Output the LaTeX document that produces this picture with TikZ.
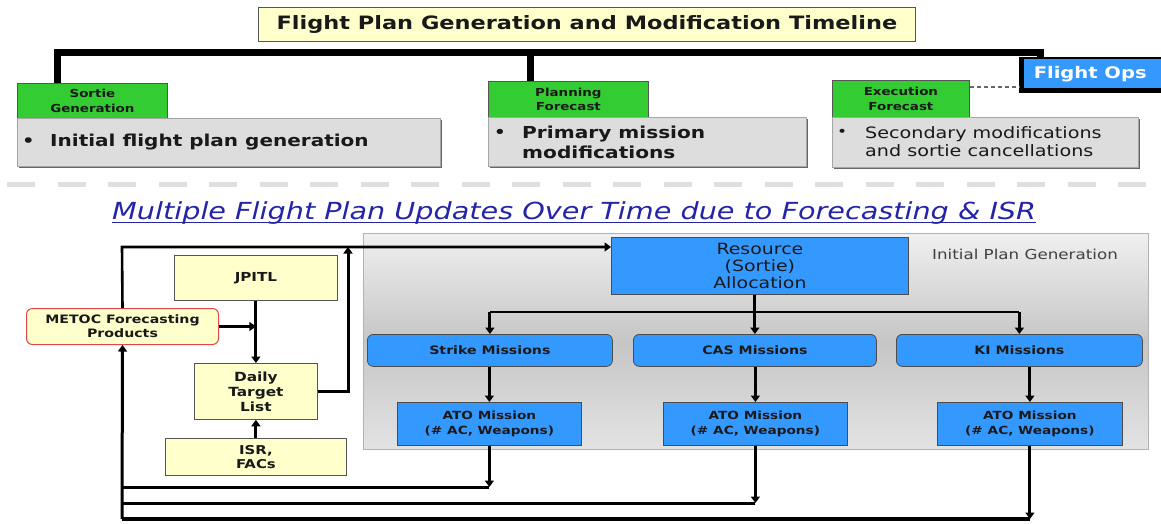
\documentclass[tikz,border=0pt]{standalone}
\usepackage{fontspec}
\setmainfont[FakeStretch=1.22]{DejaVu Sans}
\usetikzlibrary{arrows.meta,shadows}
\definecolor{yel}{HTML}{FFFFCC}
\definecolor{grn}{HTML}{33CC33}
\definecolor{gfill}{HTML}{DDDDDD}
\definecolor{blu}{HTML}{3399FF}
\definecolor{subblue}{HTML}{2424A8}
\definecolor{metred}{HTML}{E04848}
\definecolor{bord}{HTML}{555555}
\begin{document}
\begin{tikzpicture}[x=1pt,y=-1pt,
  box/.style={inner sep=0pt, anchor=north west, align=center, text=black!90},
  ybox/.style={box, draw=bord, fill=yel, line width=0.8pt},
  gnbox/.style={box, draw=bord, fill=grn, line width=0.8pt, font=\bfseries\fontsize{11}{14.5}\selectfont},
  grbox/.style={box, draw=gray!70, fill=gfill, line width=0.8pt,
     drop shadow={shadow xshift=1.5pt, shadow yshift=-1.5pt, fill=gray!80!black, opacity=1}},
  bbox/.style={box, draw=black!70, fill=blu, line width=0.8pt},
  mbox/.style={bbox, rounded corners=6pt, font=\bfseries\fontsize{11.6}{14}\selectfont},
  abox/.style={bbox, font=\bfseries\fontsize{11.2}{15}\selectfont},
  ln/.style={line width=3pt},
  arr/.style={line width=3pt, -{Triangle[length=6.5pt,width=9pt]}},
  tline/.style={line width=7pt},
  txt/.style={inner sep=0pt, text=black!90}
]
\useasboundingbox (0,0) rectangle (1161,523);
\clip (0,0) rectangle (1161,523);
\fill[white] (0,0) rectangle (1161,523);

% ---------- timeline ----------
\node[ybox, minimum width=657, minimum height=34, font=\bfseries\fontsize{18.4}{21}\selectfont,
  drop shadow={shadow xshift=1pt, shadow yshift=-1pt, fill=gray!70, opacity=1}]
  (title) at (258,7) {Flight Plan Generation and Modification Timeline};

\node[gnbox, minimum width=150, minimum height=35] (sortie) at (17,83) {Sortie\\Generation};
\node[grbox, minimum width=423, minimum height=48] (sortieg) at (17,118) {};
\node[txt, font=\bfseries\fontsize{16}{20}\selectfont, anchor=west] (b1) at (22,142) {•};
\node[txt, font=\bfseries\fontsize{16.4}{20}\selectfont, anchor=west] (t1) at (50,142) {Initial flight plan generation};

\node[gnbox, minimum width=160, minimum height=36] (plan) at (488,81) {Planning\\Forecast};
\node[grbox, minimum width=318, minimum height=49] (plang) at (488,117) {};
\node[txt, font=\bfseries\fontsize{15}{20}\selectfont, anchor=west] (b2) at (494,133) {•};
\node[txt, font=\bfseries\fontsize{16.5}{19.5}\selectfont, anchor=west, align=left] (t2) at (522,142.5) {Primary mission\\modifications};

\node[gnbox, minimum width=137, minimum height=37] (exec) at (832,80) {Execution\\Forecast};
\node[grbox, minimum width=306, minimum height=50] (execg) at (832,117) {};
\node[txt, font=\fontsize{14}{17}\selectfont, anchor=west] (b3) at (837,133) {•};
\node[txt, font=\fontsize{15.7}{17.5}\selectfont, anchor=west, align=left] (t3) at (865,141.5) {Secondary modifications\\and sortie cancellations};

\fill[black] (1019,57) rectangle (1170,93);
\node[box, fill=blu, minimum width=140, minimum height=29, font=\bfseries\fontsize{16}{19}\selectfont, text=white]
  (fops) at (1024,59) {\hspace*{-8pt}Flight Ops};

\coordinate (tlL) at (57,52);
\coordinate (tlM) at (530,52);
\coordinate (tlR) at (1040,52);
\draw[tline] (tlL |- sortie.north) -- (tlL) -- (tlR) -- (tlR |- fops.north);
\draw[tline] (tlM) -- (tlM |- plan.north);
\draw[gray!80!black, line width=1.2pt, dash pattern=on 4pt off 3pt] (exec.east |- 0,87) -- (1019,87);

% separator
\coordinate (sepL) at (7,184);
\coordinate (sepR) at (1150,184);
\draw[gray!25, line width=5pt, dash pattern=on 28pt off 22.5pt] (sepL) -- (sepR);

% subtitle
\node[txt, anchor=base west, text=subblue, font=\itshape\fontsize{23.5}{26}\selectfont] (sub) at (112,219)
  {Multiple Flight Plan Updates Over Time due to Forecasting \& ISR};
\draw[subblue, line width=1.8pt] ([yshift=-3.5pt]sub.base west) -- ([yshift=-3.5pt]sub.base east);

% ---------- initial plan generation panel ----------
\node[box, draw=gray!60, line width=0.8pt, minimum width=785, minimum height=216,
  top color=gray!12, bottom color=gray!22, middle color=gray!45] (panel) at (363,233) {};
\node[txt, font=\fontsize{13.7}{16}\selectfont, text=black!75] (ipg) at (1025,254) {Initial Plan Generation};

\node[bbox, minimum width=297, minimum height=57, font=\fontsize{15.5}{17}\selectfont] (res) at (611,237)
  {Resource\\(Sortie)\\Allocation};

\node[mbox, minimum width=245, minimum height=32] (strike) at (367,334) {Strike Missions};
\node[mbox, minimum width=243, minimum height=32] (cas) at (633,334) {CAS Missions};
\node[mbox, minimum width=246, minimum height=32] (ki) at (896,334) {KI Missions};

\node[abox, minimum width=184, minimum height=43] (atoS) at (397,402) {ATO Mission\\(\# AC, Weapons)};
\node[abox, minimum width=184, minimum height=43] (atoC) at (663,402) {ATO Mission\\(\# AC, Weapons)};
\node[abox, minimum width=185, minimum height=43] (atoK) at (937,402) {ATO Mission\\(\# AC, Weapons)};

\coordinate (split) at (755,312);
\draw[arr] (res.south -| cas.north) -- (cas.north);
\draw[ln, line width=2.4pt] (strike.north |- split) -- (ki.north |- split);
\draw[arr] (strike.north |- split) -- (strike.north);
\draw[arr] (ki.north |- split) -- (ki.north);
\draw[arr] (strike.south -| atoS.north) -- (atoS.north);
\draw[arr] (cas.south -| atoC.north) -- (atoC.north);
\draw[arr] (ki.south -| atoK.north) -- (atoK.north);

% ---------- left side inputs ----------
\node[ybox, minimum width=163, minimum height=45, font=\bfseries\fontsize{12.4}{15}\selectfont] (jpitl) at (174,255) {JPITL};
\node[ybox, draw=metred, line width=1pt, rounded corners=6pt, minimum width=192, minimum height=36,
  font=\bfseries\fontsize{11.6}{14}\selectfont] (metoc) at (26,308) {METOC Forecasting\\Products};
\node[ybox, minimum width=123, minimum height=56, font=\bfseries\fontsize{12.6}{15}\selectfont] (dtl) at (194,363) {Daily\\Target\\List};
\node[ybox, minimum width=181, minimum height=37, font=\bfseries\fontsize{12.2}{14}\selectfont] (isr) at (165,438) {ISR,\\FACs};

\draw[arr] (jpitl.south) -- (dtl.north);
\draw[arr] (metoc.east) -- (metoc.east -| dtl.north);
\draw[arr] (isr.north) -- (dtl.south);
\coordinate (dtlup) at (348,247);
\draw[arr] (dtl.east) -| (dtlup);

% ---------- feedback loops ----------
\coordinate (fb1) at (122,487);
\coordinate (fb2) at (122,503);
\coordinate (fb3) at (122,519);
\coordinate (tl) at (122,247);
\draw[arr] (atoS.south) -- (atoS.south |- fb1);
\draw[ln] (atoS.south |- fb1) -- (fb1);
\draw[arr] (atoC.south) -- (atoC.south |- fb2);
\draw[ln] (atoC.south |- fb2) -- (fb2);
\draw[arr] (atoK.south) -- (atoK.south |- fb3);
\draw[ln, line width=4pt] (atoK.south |- fb3) -- (fb3);
\draw[arr] (fb3) -- (metoc.south);
\draw[arr, line width=2.6pt] (metoc.north) -- (tl) -- (res.west |- tl);
\end{tikzpicture}
\end{document}
